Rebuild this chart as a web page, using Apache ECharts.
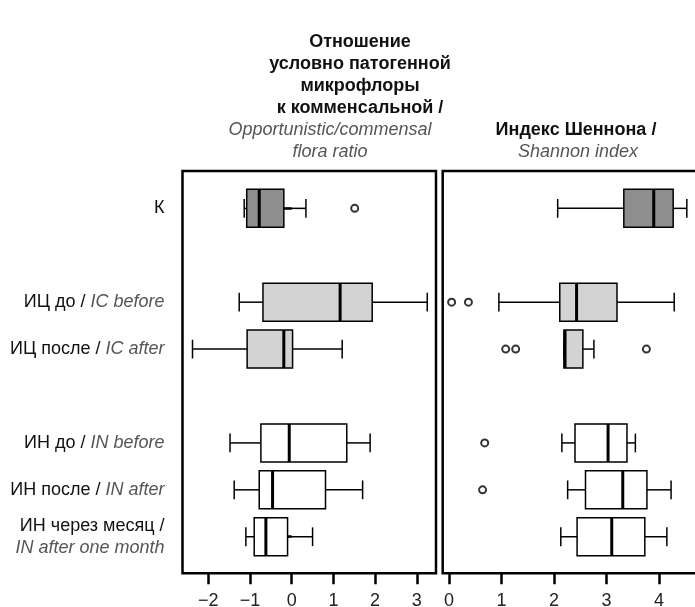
<!DOCTYPE html>
<html>
<head>
<meta charset="utf-8">
<script src="https://cdn.jsdelivr.net/npm/echarts@6/dist/echarts.min.js"></script>
<style>
  html, body { margin: 0; padding: 0; background: #fff; }
  #chart { width: 695px; height: 607px; }
</style>
</head>
<body>
<div id="chart"></div>
<script>
// y slots (blank entries are the gaps between groups)
const yCategories = ['К', '', 'ИЦ до', 'ИЦ после', '', 'ИН до', 'ИН после', 'ИН через месяц'];
const yCategoriesEn = ['', '', 'IC before', 'IC after', '', 'IN before', 'IN after', 'IN after one month'];
const groups = ['К', 'ИЦ до', 'ИЦ после', 'ИН до', 'ИН после', 'ИН через месяц'];

// Opportunistic/commensal flora ratio
const ratioMin = [-1.14, -1.26, -2.38, -1.48, -1.38, -1.10];
const ratioQ1 = [-1.08, -0.69, -1.07, -0.74, -0.78, -0.90];
const ratioMedian = [-0.78, 1.16, -0.19, -0.06, -0.46, -0.62];
const ratioQ3 = [-0.19, 1.93, 0.02, 1.32, 0.81, -0.10];
const ratioMax = [0.34, 3.25, 1.21, 1.88, 1.70, 0.50];
const ratioOutliers = [['К', 1.51]];
const ratioTicks = [-2, -1, 0, 1, 2, 3];

// Shannon index
const shannonMin = [2.07, 0.95, 2.19, 2.15, 2.26, 2.13];
const shannonQ1 = [3.33, 2.11, 2.19, 2.40, 2.60, 2.44];
const shannonMedian = [3.90, 2.43, 2.21, 3.03, 3.31, 3.10];
const shannonQ3 = [4.27, 3.20, 2.55, 3.39, 3.77, 3.73];
const shannonMax = [4.53, 4.29, 2.76, 3.55, 4.23, 4.15];
const shannonOutliers = [
  ['ИЦ до', 0.05], ['ИЦ до', 0.37],
  ['ИЦ после', 1.08], ['ИЦ после', 1.27], ['ИЦ после', 3.76],
  ['ИН до', 0.68], ['ИН после', 0.64]
];
const shannonTicks = [0, 1, 2, 3, 4];

const FONT = '"Liberation Sans", Arial, Helvetica, sans-serif';
const boxFills = ['#8e8e8e', null, '#d3d3d3', '#d3d3d3', null, '#ffffff', '#ffffff', '#ffffff'];

const chart = echarts.init(document.getElementById('chart'));

const boxData = (mins, q1s, meds, q3s, maxs) =>
  groups.map((g, i) => [yCategories.indexOf(g), mins[i], q1s[i], meds[i], q3s[i], maxs[i]]);

const outlierData = list => list.map(([g, v]) => [v, yCategories.indexOf(g)]);

const renderBox = (params, api) => {
  const y = api.value(0);
  const pMin = api.coord([api.value(1), y]);
  const pQ1 = api.coord([api.value(2), y]);
  const pMed = api.coord([api.value(3), y]);
  const pQ3 = api.coord([api.value(4), y]);
  const pMax = api.coord([api.value(5), y]);
  const band = api.size([0, 1])[1];
  const half = band * 0.405;
  const cap = band * 0.2;
  const cy = pMed[1];
  const line = {stroke: '#000', lineWidth: 1.5};
  return {
    type: 'group',
    children: [
      {type: 'line', shape: {x1: pMin[0], y1: cy, x2: pQ1[0], y2: cy}, style: line},
      {type: 'line', shape: {x1: pQ3[0], y1: cy, x2: pMax[0], y2: cy}, style: line},
      {type: 'line', shape: {x1: pMin[0], y1: cy - cap, x2: pMin[0], y2: cy + cap}, style: line},
      {type: 'line', shape: {x1: pMax[0], y1: cy - cap, x2: pMax[0], y2: cy + cap}, style: line},
      {
        type: 'rect',
        shape: {x: pQ1[0], y: cy - half, width: pQ3[0] - pQ1[0], height: half * 2},
        style: {fill: boxFills[y], stroke: '#000', lineWidth: 1.5}
      },
      {type: 'line', shape: {x1: pMed[0], y1: cy - half, x2: pMed[0], y2: cy + half}, style: {stroke: '#000', lineWidth: 3}}
    ]
  };
};

const minus = v => String(v).replace('-', '\u2212');

const visibleX = (min, max, ticks) => ({
  type: 'value',
  min: min,
  max: max,
  axisLine: {show: false},
  splitLine: {show: false},
  axisTick: {show: true, customValues: ticks, length: 11, lineStyle: {color: '#000', width: 2.5}},
  axisLabel: {customValues: ticks, formatter: minus, fontSize: 18, color: '#222', fontFamily: FONT, margin: 19}
});

const hiddenX = (min, max) => ({type: 'value', min: min, max: max, show: false});

const option = {
  animation: false,
  backgroundColor: '#fff',
  title: [
    {
      text: 'Отношение\nусловно патогенной\nмикрофлоры\nк комменсальной /',
      left: 360, top: 31, padding: 0, textAlign: 'center',
      textStyle: {fontSize: 18, fontWeight: 'bold', color: '#111', lineHeight: 22, fontFamily: FONT}
    },
    {
      text: 'Opportunistic/commensal\nflora ratio',
      left: 330, top: 119, padding: 0, textAlign: 'center',
      textStyle: {fontSize: 18, fontStyle: 'italic', fontWeight: 'normal', color: '#555', lineHeight: 22, fontFamily: FONT}
    },
    {
      text: 'Индекс Шеннона /',
      left: 576, top: 119, padding: 0, textAlign: 'center',
      textStyle: {fontSize: 18, fontWeight: 'bold', color: '#111', lineHeight: 22, fontFamily: FONT}
    },
    {
      text: 'Shannon index',
      left: 578, top: 141, padding: 0, textAlign: 'center',
      textStyle: {fontSize: 18, fontStyle: 'italic', fontWeight: 'normal', color: '#555', lineHeight: 22, fontFamily: FONT}
    }
  ],
  grid: [
    // frames
    {left: 182.5, top: 171, width: 253.5, height: 402.3, show: true, borderColor: '#000', borderWidth: 2.5, backgroundColor: 'transparent', outerBoundsMode: 'none'},
    {left: 442.7, top: 171, width: 270, height: 402.3, show: true, borderColor: '#000', borderWidth: 2.5, backgroundColor: 'transparent', outerBoundsMode: 'none'},
    // data areas
    {left: 182.5, top: 184.9, width: 253.5, height: 375.3, outerBoundsMode: 'none'},
    {left: 442.7, top: 184.9, width: 270, height: 375.3, outerBoundsMode: 'none'}
  ],
  xAxis: [
    Object.assign(visibleX(-2.62, 3.46, ratioTicks), {gridIndex: 0}),
    Object.assign(visibleX(-0.12, 5.023, shannonTicks), {gridIndex: 1}),
    Object.assign(hiddenX(-2.62, 3.46), {gridIndex: 2}),
    Object.assign(hiddenX(-0.12, 5.023), {gridIndex: 3})
  ],
  yAxis: [
    {type: 'value', gridIndex: 0, show: false},
    {type: 'value', gridIndex: 1, show: false},
    {
      type: 'category', gridIndex: 2, data: yCategories, inverse: true,
      axisLine: {show: false},
      axisTick: {
        show: true, alignWithLabel: true, length: 9,
        interval: (idx, value) => value !== '',
        lineStyle: {color: '#000', width: 2.5}
      },
      axisLabel: {
        interval: 0, margin: 18, align: 'right',
        formatter: (value, idx) => {
          if (!value) return '';
          const en = yCategoriesEn[idx];
          if (!en) return '{ru|' + value + '}';
          if (value.length > 10) return '{ru|' + value + ' /}\n{en|' + en + '}';
          return '{ru|' + value + ' / }{en|' + en + '}';
        },
        rich: {
          ru: {fontSize: 18, color: '#111', fontFamily: FONT, lineHeight: 22},
          en: {fontSize: 18, color: '#555', fontStyle: 'italic', fontFamily: FONT, lineHeight: 22}
        }
      }
    },
    {type: 'category', gridIndex: 3, data: yCategories, inverse: true, show: false}
  ],
  series: [
    {
      name: 'ratio', type: 'custom', xAxisIndex: 2, yAxisIndex: 2,
      renderItem: renderBox,
      encode: {x: [1, 2, 3, 4, 5], y: 0},
      data: boxData(ratioMin, ratioQ1, ratioMedian, ratioQ3, ratioMax)
    },
    {
      name: 'ratio outliers', type: 'scatter', xAxisIndex: 2, yAxisIndex: 2,
      symbol: 'emptyCircle', symbolSize: 7,
      itemStyle: {color: '#000', borderColor: '#000', borderWidth: 1.4},
      data: outlierData(ratioOutliers)
    },
    {
      name: 'shannon', type: 'custom', xAxisIndex: 3, yAxisIndex: 3,
      renderItem: renderBox,
      encode: {x: [1, 2, 3, 4, 5], y: 0},
      data: boxData(shannonMin, shannonQ1, shannonMedian, shannonQ3, shannonMax)
    },
    {
      name: 'shannon outliers', type: 'scatter', xAxisIndex: 3, yAxisIndex: 3,
      symbol: 'emptyCircle', symbolSize: 7,
      itemStyle: {color: '#000', borderColor: '#000', borderWidth: 1.4},
      data: outlierData(shannonOutliers)
    }
  ]
};

chart.setOption(option);
window.addEventListener('resize', () => chart.resize());
</script>
</body>
</html>
